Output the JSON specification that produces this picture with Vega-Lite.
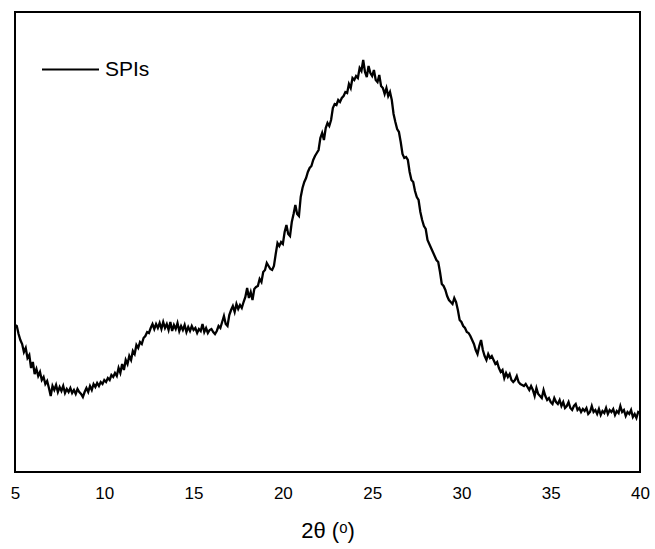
{
  "$schema": "https://vega.github.io/schema/vega-lite/v6.json",
  "width": 625,
  "height": 460,
  "autosize": {"type": "none"},
  "padding": {"left": 15, "top": 12, "right": 15, "bottom": 77},
  "background": "white",
  "config": {
    "view": {"stroke": "black", "strokeWidth": 2},
    "font": "Liberation Sans"
  },
  "data": {
    "values": [
      {"t":5.0,"i":147},{"t":5.1,"i":146},{"t":5.2,"i":138},{"t":5.3,"i":132},{"t":5.4,"i":128},{"t":5.5,"i":120},{"t":5.6,"i":124},{"t":5.7,"i":114},{"t":5.8,"i":117},{"t":5.9,"i":104},
      {"t":6.0,"i":110},{"t":6.1,"i":98},{"t":6.2,"i":103},{"t":6.3,"i":96},{"t":6.4,"i":100},{"t":6.5,"i":92},{"t":6.6,"i":95},{"t":6.7,"i":88},{"t":6.8,"i":91},{"t":6.9,"i":84},
      {"t":7.0,"i":76},{"t":7.1,"i":86},{"t":7.2,"i":82},{"t":7.3,"i":87},{"t":7.4,"i":80},{"t":7.5,"i":85},{"t":7.6,"i":81},{"t":7.7,"i":86},{"t":7.8,"i":79},{"t":7.9,"i":83},
      {"t":8.0,"i":80},{"t":8.1,"i":84},{"t":8.2,"i":79},{"t":8.3,"i":82},{"t":8.4,"i":78},{"t":8.5,"i":83},{"t":8.6,"i":80},{"t":8.7,"i":78},{"t":8.8,"i":75},{"t":8.9,"i":80},
      {"t":9.0,"i":84},{"t":9.1,"i":80},{"t":9.2,"i":86},{"t":9.3,"i":82},{"t":9.4,"i":88},{"t":9.5,"i":85},{"t":9.6,"i":89},{"t":9.7,"i":86},{"t":9.8,"i":90},{"t":9.9,"i":88},
      {"t":10.0,"i":92},{"t":10.1,"i":90},{"t":10.2,"i":94},{"t":10.3,"i":92},{"t":10.4,"i":97},{"t":10.5,"i":95},{"t":10.6,"i":99},{"t":10.7,"i":96},{"t":10.8,"i":104},{"t":10.9,"i":99},
      {"t":11.0,"i":108},{"t":11.1,"i":102},{"t":11.2,"i":112},{"t":11.3,"i":108},{"t":11.4,"i":116},{"t":11.5,"i":112},{"t":11.6,"i":121},{"t":11.7,"i":118},{"t":11.8,"i":127},{"t":11.9,"i":124},
      {"t":12.0,"i":130},{"t":12.1,"i":128},{"t":12.2,"i":134},{"t":12.3,"i":136},{"t":12.4,"i":140},{"t":12.5,"i":139},{"t":12.6,"i":144},{"t":12.7,"i":148},{"t":12.8,"i":143},{"t":12.9,"i":148},
      {"t":13.0,"i":144},{"t":13.1,"i":149},{"t":13.2,"i":143},{"t":13.3,"i":150},{"t":13.4,"i":144},{"t":13.5,"i":148},{"t":13.6,"i":142},{"t":13.7,"i":150},{"t":13.8,"i":141},{"t":13.9,"i":147},
      {"t":14.0,"i":143},{"t":14.1,"i":149},{"t":14.2,"i":141},{"t":14.3,"i":146},{"t":14.4,"i":142},{"t":14.5,"i":147},{"t":14.6,"i":140},{"t":14.7,"i":145},{"t":14.8,"i":141},{"t":14.9,"i":146},
      {"t":15.0,"i":142},{"t":15.1,"i":144},{"t":15.2,"i":139},{"t":15.3,"i":143},{"t":15.4,"i":141},{"t":15.5,"i":148},{"t":15.6,"i":140},{"t":15.7,"i":144},{"t":15.8,"i":139},{"t":15.9,"i":142},
      {"t":16.0,"i":143},{"t":16.1,"i":140},{"t":16.2,"i":138},{"t":16.3,"i":141},{"t":16.4,"i":146},{"t":16.5,"i":144},{"t":16.6,"i":150},{"t":16.7,"i":156},{"t":16.8,"i":148},{"t":16.9,"i":146},
      {"t":17.0,"i":157},{"t":17.1,"i":162},{"t":17.2,"i":166},{"t":17.3,"i":160},{"t":17.4,"i":168},{"t":17.5,"i":163},{"t":17.6,"i":167},{"t":17.7,"i":164},{"t":17.8,"i":170},{"t":17.9,"i":175},
      {"t":18.0,"i":184},{"t":18.1,"i":174},{"t":18.2,"i":180},{"t":18.3,"i":172},{"t":18.4,"i":183},{"t":18.5,"i":185},{"t":18.6,"i":186},{"t":18.7,"i":193},{"t":18.8,"i":190},{"t":18.9,"i":200},
      {"t":19.0,"i":202},{"t":19.1,"i":209},{"t":19.2,"i":206},{"t":19.3,"i":203},{"t":19.4,"i":202},{"t":19.5,"i":206},{"t":19.6,"i":218},{"t":19.7,"i":229},{"t":19.8,"i":226},{"t":19.9,"i":230},
      {"t":20.0,"i":228},{"t":20.1,"i":240},{"t":20.2,"i":247},{"t":20.3,"i":238},{"t":20.4,"i":236},{"t":20.5,"i":250},{"t":20.6,"i":258},{"t":20.7,"i":267},{"t":20.8,"i":258},{"t":20.9,"i":256},
      {"t":21.0,"i":275},{"t":21.1,"i":284},{"t":21.2,"i":290},{"t":21.3,"i":294},{"t":21.4,"i":300},{"t":21.5,"i":304},{"t":21.6,"i":306},{"t":21.7,"i":312},{"t":21.8,"i":316},{"t":21.9,"i":319},
      {"t":22.0,"i":322},{"t":22.1,"i":334},{"t":22.2,"i":339},{"t":22.3,"i":332},{"t":22.4,"i":344},{"t":22.5,"i":349},{"t":22.6,"i":346},{"t":22.7,"i":352},{"t":22.8,"i":364},{"t":22.9,"i":368},
      {"t":23.0,"i":367},{"t":23.1,"i":372},{"t":23.2,"i":370},{"t":23.3,"i":374},{"t":23.4,"i":376},{"t":23.5,"i":380},{"t":23.6,"i":379},{"t":23.7,"i":388},{"t":23.8,"i":384},{"t":23.9,"i":394},
      {"t":24.0,"i":392},{"t":24.1,"i":396},{"t":24.2,"i":394},{"t":24.3,"i":404},{"t":24.4,"i":401},{"t":24.5,"i":412},{"t":24.6,"i":400},{"t":24.7,"i":395},{"t":24.8,"i":406},{"t":24.9,"i":399},
      {"t":25.0,"i":396},{"t":25.1,"i":402},{"t":25.2,"i":392},{"t":25.3,"i":390},{"t":25.4,"i":397},{"t":25.5,"i":386},{"t":25.6,"i":384},{"t":25.7,"i":378},{"t":25.8,"i":384},{"t":25.9,"i":376},
      {"t":26.0,"i":380},{"t":26.1,"i":372},{"t":26.2,"i":358},{"t":26.3,"i":350},{"t":26.4,"i":343},{"t":26.5,"i":340},{"t":26.6,"i":330},{"t":26.7,"i":318},{"t":26.8,"i":314},{"t":26.9,"i":315},
      {"t":27.0,"i":312},{"t":27.1,"i":300},{"t":27.2,"i":292},{"t":27.3,"i":290},{"t":27.4,"i":281},{"t":27.5,"i":275},{"t":27.6,"i":272},{"t":27.7,"i":260},{"t":27.8,"i":252},{"t":27.9,"i":246},
      {"t":28.0,"i":243},{"t":28.1,"i":232},{"t":28.2,"i":228},{"t":28.3,"i":224},{"t":28.4,"i":220},{"t":28.5,"i":216},{"t":28.6,"i":212},{"t":28.7,"i":210},{"t":28.8,"i":200},{"t":28.9,"i":188},
      {"t":29.0,"i":186},{"t":29.1,"i":182},{"t":29.2,"i":176},{"t":29.3,"i":172},{"t":29.4,"i":170},{"t":29.5,"i":168},{"t":29.6,"i":174},{"t":29.7,"i":170},{"t":29.8,"i":162},{"t":29.9,"i":152},
      {"t":30.0,"i":150},{"t":30.1,"i":146},{"t":30.2,"i":144},{"t":30.3,"i":140},{"t":30.4,"i":139},{"t":30.5,"i":136},{"t":30.6,"i":132},{"t":30.7,"i":128},{"t":30.8,"i":122},{"t":30.9,"i":118},
      {"t":31.0,"i":126},{"t":31.1,"i":132},{"t":31.2,"i":122},{"t":31.3,"i":116},{"t":31.4,"i":112},{"t":31.5,"i":118},{"t":31.6,"i":114},{"t":31.7,"i":116},{"t":31.8,"i":112},{"t":31.9,"i":108},
      {"t":32.0,"i":110},{"t":32.1,"i":104},{"t":32.2,"i":100},{"t":32.3,"i":102},{"t":32.4,"i":94},{"t":32.5,"i":99},{"t":32.6,"i":95},{"t":32.7,"i":98},{"t":32.8,"i":92},{"t":32.9,"i":90},
      {"t":33.0,"i":92},{"t":33.1,"i":96},{"t":33.2,"i":90},{"t":33.3,"i":88},{"t":33.4,"i":87},{"t":33.5,"i":86},{"t":33.6,"i":88},{"t":33.7,"i":85},{"t":33.8,"i":82},{"t":33.9,"i":86},
      {"t":34.0,"i":82},{"t":34.1,"i":76},{"t":34.2,"i":84},{"t":34.3,"i":78},{"t":34.4,"i":76},{"t":34.5,"i":74},{"t":34.6,"i":82},{"t":34.7,"i":76},{"t":34.8,"i":72},{"t":34.9,"i":74},
      {"t":35.0,"i":70},{"t":35.1,"i":68},{"t":35.2,"i":74},{"t":35.3,"i":70},{"t":35.4,"i":68},{"t":35.5,"i":72},{"t":35.6,"i":66},{"t":35.7,"i":70},{"t":35.8,"i":64},{"t":35.9,"i":66},
      {"t":36.0,"i":70},{"t":36.1,"i":64},{"t":36.2,"i":62},{"t":36.3,"i":66},{"t":36.4,"i":68},{"t":36.5,"i":62},{"t":36.6,"i":64},{"t":36.7,"i":60},{"t":36.8,"i":63},{"t":36.9,"i":61},
      {"t":37.0,"i":64},{"t":37.1,"i":58},{"t":37.2,"i":60},{"t":37.3,"i":66},{"t":37.4,"i":60},{"t":37.5,"i":62},{"t":37.6,"i":58},{"t":37.7,"i":63},{"t":37.8,"i":57},{"t":37.9,"i":61},
      {"t":38.0,"i":59},{"t":38.1,"i":64},{"t":38.2,"i":58},{"t":38.3,"i":62},{"t":38.4,"i":60},{"t":38.5,"i":63},{"t":38.6,"i":57},{"t":38.7,"i":61},{"t":38.8,"i":59},{"t":38.9,"i":66},
      {"t":39.0,"i":60},{"t":39.1,"i":62},{"t":39.2,"i":56},{"t":39.3,"i":60},{"t":39.4,"i":58},{"t":39.5,"i":62},{"t":39.6,"i":55},{"t":39.7,"i":58},{"t":39.8,"i":54},{"t":39.9,"i":60},
      {"t":40.0,"i":59}
    ]
  },
  "transform": [{"calculate": "'SPIs'", "as": "series"}],
  "mark": {"type": "line", "strokeWidth": 2.3, "clip": true},
  "encoding": {
    "x": {
      "field": "t",
      "type": "quantitative",
      "scale": {"domain": [5, 40], "nice": false, "zero": false},
      "axis": {
        "values": [5, 10, 15, 20, 25, 30, 35, 40],
        "ticks": false,
        "domain": false,
        "grid": false,
        "labelFontSize": 17,
        "labelColor": "black",
        "labelPadding": 13,
        "labelFlush": false,
        "title": "2θ (ᵒ)",
        "titleFontSize": 22,
        "titleFontWeight": "normal",
        "titleColor": "black",
        "titlePadding": 19
      }
    },
    "y": {
      "field": "i",
      "type": "quantitative",
      "scale": {"domain": [0, 460], "nice": false},
      "axis": null
    },
    "color": {
      "field": "series",
      "type": "nominal",
      "scale": {"range": ["black"]},
      "legend": {
        "title": null,
        "orient": "none",
        "legendX": 26,
        "legendY": 28,
        "symbolType": "stroke",
        "symbolSize": 3249,
        "symbolStrokeWidth": 2,
        "labelFontSize": 21,
        "labelColor": "black",
        "labelOffset": 5
      }
    }
  }
}
